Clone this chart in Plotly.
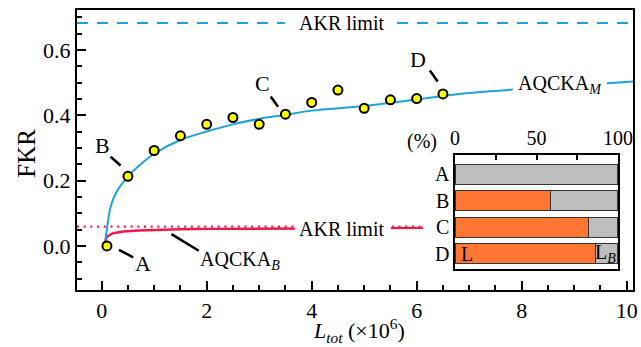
import plotly.graph_objects as go

FONT = "Times New Roman, Liberation Serif, serif"

# ---------------- data ----------------
pt_x = [0.1, 0.5, 1.0, 1.5, 2.0, 2.5, 3.0, 3.5, 4.0, 4.5, 5.0, 5.5, 6.0, 6.5]
pt_y = [0.0, 0.213, 0.292, 0.337, 0.372, 0.393, 0.372, 0.403, 0.439, 0.477, 0.421, 0.447, 0.451, 0.465]

m_x = [0.065, 0.085, 0.107, 0.15, 0.19, 0.27, 0.35, 0.5, 0.73, 1.0, 1.5, 2.0, 2.5, 3.0,
       3.5, 4.0, 5.0, 6.0, 6.5, 7.0, 8.0, 9.0, 10.12]
m_y = [0.012, 0.035, 0.059, 0.105, 0.130, 0.161, 0.182, 0.212, 0.248, 0.282, 0.324, 0.350,
       0.372, 0.389, 0.401, 0.414, 0.428, 0.448, 0.459, 0.468, 0.480, 0.491, 0.503]

b_x = [0.065, 0.09, 0.126, 0.17, 0.22, 0.3, 0.41, 0.7, 1.04, 1.5, 2.0, 3.0, 4.0, 5.0, 6.12]
b_y = [0.013, 0.024, 0.031, 0.036, 0.039, 0.041, 0.044, 0.047, 0.049, 0.051, 0.052, 0.053,
       0.054, 0.054, 0.055]

akr_limit_M = 0.682
akr_limit_B = 0.059
akr_B_x = [-0.47, 6.12]

inset_cats = ["A", "B", "C", "D"]
share_L = [0.0, 58.8, 82.0, 85.9]
share_LB = [100.0, 41.2, 18.0, 14.1]

x_ticks = [0, 2, 4, 6, 8, 10]
y_ticks = [0.0, 0.2, 0.4, 0.6]
inset_ticks = [0, 50, 100]

point_labels = [
    ("A", 0.78, -0.055, 0.33, -0.012, 0.60, -0.035),
    ("B", 0.02, 0.307, 0.17, 0.273, 0.36, 0.246),
    ("C", 3.07, 0.498, 3.22, 0.457, 3.36, 0.426),
    ("D", 6.03, 0.571, 6.25, 0.537, 6.40, 0.503),
]
aqcka_b_label = (2.63, -0.045, 1.33, 0.036, 1.85, -0.015)
aqcka_m_label = (8.72, 0.487, 7.83, 9.62)
akr_label_x = 4.56
akr_gap_M = (3.49, 5.59)
akr_gap_B = (3.68, 5.51)

BLUE = "#1CA3DE"
RED = "#F01848"
ORANGE = "#FF7733"
GRAY = "#BEBEBE"

fig = go.Figure()

fig.add_trace(go.Scatter(x=[-0.47, 10.12], y=[akr_limit_M, akr_limit_M], mode="lines",
                         line=dict(color=BLUE, width=2, dash="11px,9px"), showlegend=False))
fig.add_trace(go.Scatter(x=akr_B_x, y=[akr_limit_B, akr_limit_B], mode="lines",
                         line=dict(color=RED, width=2.2, dash="2px,4.7px"), showlegend=False))
fig.add_trace(go.Scatter(x=b_x, y=b_y, mode="lines",
                         line=dict(color=RED, width=2.4), showlegend=False))
fig.add_trace(go.Scatter(x=m_x, y=m_y, mode="lines", line_shape="spline",
                         line=dict(color=BLUE, width=2), showlegend=False))
fig.add_trace(go.Scatter(x=pt_x, y=pt_y, mode="markers",
                         marker=dict(color="#FFFF00", size=9, line=dict(color="black", width=2)),
                         showlegend=False))

fig.add_trace(go.Bar(y=inset_cats, x=share_L, orientation="h", xaxis="x2", yaxis="y2",
                     marker=dict(color=ORANGE, line=dict(color="#333333", width=1)),
                     width=0.75, showlegend=False))
fig.add_trace(go.Bar(y=inset_cats, x=share_LB, orientation="h", xaxis="x2", yaxis="y2",
                     marker=dict(color=GRAY, line=dict(color="#333333", width=1)),
                     width=0.75, showlegend=False))

annotations = []
shapes = []
# white gaps behind line labels
for (g0, g1), yc, h in [(akr_gap_M, akr_limit_M, 0.015), (akr_gap_B, akr_limit_B, 0.015),
                        ((aqcka_m_label[2], aqcka_m_label[3]), aqcka_m_label[1], 0.025)]:
    shapes.append(dict(type="rect", xref="x", yref="y", x0=g0, x1=g1, y0=yc - h, y1=yc + h,
                       fillcolor="white", line=dict(width=0), layer="above"))

for (t, lx, ly, x0, y0, x1, y1) in point_labels:
    annotations.append(dict(x=lx, y=ly, xref="x", yref="y", text=t, showarrow=False,
                            font=dict(family=FONT, size=22, color="black")))
    shapes.append(dict(type="line", xref="x", yref="y", x0=x0, y0=y0, x1=x1, y1=y1,
                       line=dict(color="black", width=2.5)))

lx, ly, x0, y0, x1, y1 = aqcka_b_label
annotations.append(dict(x=lx, y=ly, xref="x", yref="y", text="AQCKA<sub><i>B</i></sub>",
                        showarrow=False, font=dict(family=FONT, size=20, color="black")))
shapes.append(dict(type="line", xref="x", yref="y", x0=x0, y0=y0, x1=x1, y1=y1,
                   line=dict(color="black", width=2.5)))

annotations.append(dict(x=aqcka_m_label[0], y=aqcka_m_label[1], xref="x", yref="y",
                        text="AQCKA<sub><i>M</i></sub>", showarrow=False, yshift=2,
                        font=dict(family=FONT, size=20, color="black")))
annotations.append(dict(x=akr_label_x, y=akr_limit_M, xref="x", yref="y", text="AKR limit",
                        showarrow=False, font=dict(family=FONT, size=20, color="black")))
annotations.append(dict(x=akr_label_x, y=akr_limit_B, xref="x", yref="y", text="AKR limit",
                        showarrow=False, yshift=-2, font=dict(family=FONT, size=20, color="black")))

annotations.append(dict(x=0.508, y=-0.145, xref="paper", yref="paper", xanchor="center",
                        yanchor="middle",
                        text="<i>L</i><sub><i>tot</i></sub> (×10<sup>6</sup>)", showarrow=False,
                        font=dict(family=FONT, size=22, color="black")))
annotations.append(dict(x=-0.09, y=0.49, xref="paper", yref="paper", text="FKR",
                        xanchor="center", yanchor="middle",
                        textangle=-90, showarrow=False,
                        font=dict(family=FONT, size=25, color="black")))

annotations.append(dict(x=0.620, y=0.530, xref="paper", yref="paper", text="(%)",
                        xanchor="center", yanchor="middle",
                        showarrow=False, font=dict(family=FONT, size=20, color="black")))
annotations.append(dict(x=7.4, y=3, xref="x2", yref="y2", text="L", showarrow=False,
                        font=dict(family=FONT, size=20, color="black")))
annotations.append(dict(x=92.5, y=3, xref="x2", yref="y2", text="L<sub><i>B</i></sub>",
                        showarrow=False, font=dict(family=FONT, size=20, color="black")))

fig.update_layout(
    width=641, height=347, autosize=False,
    margin=dict(l=77, r=8, t=10, b=57, autoexpand=False),
    paper_bgcolor="white", plot_bgcolor="white",
    barmode="stack", bargap=0.25,
    font=dict(family=FONT, size=22, color="black"),
    showlegend=False,
    annotations=annotations, shapes=shapes,
    xaxis=dict(range=[-0.47, 10.12], tickvals=x_ticks, ticks="inside", ticklen=9, tickwidth=2,
               tickcolor="black", showline=True, linecolor="black", linewidth=2, mirror=True,
               showgrid=False, zeroline=False, tickfont=dict(family=FONT, size=22),
               minor=dict(dtick=0.5, tick0=0, ticks="inside", ticklen=5, tickwidth=1.5,
                          tickcolor="black", showgrid=False)),
    yaxis=dict(range=[-0.135, 0.722], tickvals=y_ticks, tickformat=".1f", ticks="inside",
               ticklen=9, tickwidth=2, tickcolor="black", showline=True, linecolor="black",
               linewidth=2, mirror=True, showgrid=False, zeroline=False,
               tickfont=dict(family=FONT, size=22),
               minor=dict(dtick=0.05, tick0=0, ticks="inside", ticklen=5, tickwidth=1.5,
                          tickcolor="black", showgrid=False)),
    xaxis2=dict(domain=[0.680, 0.973], anchor="y2", side="top", range=[0, 100],
                tickvals=inset_ticks, ticks="inside", ticklen=5, tickwidth=1.5,
                tickcolor="black", showline=True, linecolor="black", linewidth=1.5,
                mirror=True, showgrid=False, zeroline=False,
                tickfont=dict(family=FONT, size=20),
                minor=dict(tickvals=[25, 75], ticks="inside", ticklen=5, tickwidth=1.5,
                           tickcolor="black")),
    yaxis2=dict(domain=[0.075, 0.482], anchor="x2", type="category",
                categoryorder="array", categoryarray=inset_cats, range=[3.57, -0.73],
                ticks="", showline=True, linecolor="black", linewidth=1.5, mirror=True,
                showgrid=False, zeroline=False, tickfont=dict(family=FONT, size=20)),
)

fig.write_html("out.html", config={"responsive": False, "displayModeBar": False},
               post_script="document.body.style.margin='0';document.body.style.overflow='hidden';")
